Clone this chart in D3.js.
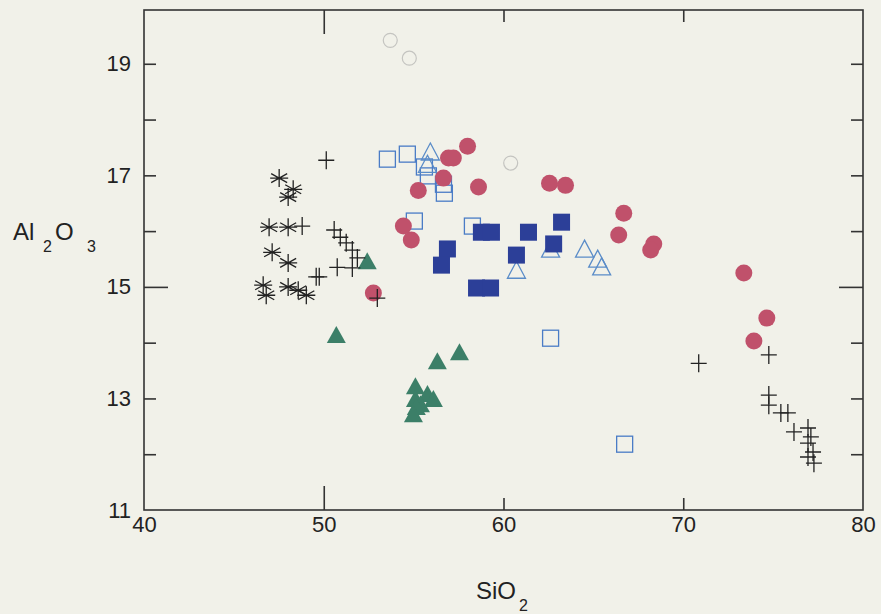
<!DOCTYPE html>
<html><head><meta charset="utf-8">
<script src="https://cdn.jsdelivr.net/npm/d3@7"></script>
<style>
html,body{margin:0;padding:0;background:#f1f1e9;}
svg{display:block;}
text{font-family:"Liberation Sans",Arial,sans-serif;fill:#222;}
</style></head>
<body>
<svg id="chart" width="881" height="614"></svg>
<script>
// ---- data (SiO2, Al2O3) ----
const grayCircles = [[53.7,19.42],[54.76,19.10],[60.4,17.22]];
const redCircles = [[58.0,17.52],[56.94,17.31],[57.21,17.31],[56.66,16.95],[55.26,16.73],[58.61,16.79],
  [62.56,16.86],[63.45,16.82],[54.43,16.09],[54.87,15.84],[52.76,14.89],[66.69,16.32],[66.41,15.93],
  [68.36,15.77],[68.19,15.66],[73.37,15.25],[74.65,14.44],[73.93,14.03]];
const filledSquares = [[58.77,15.98],[59.33,15.98],[61.39,15.98],[63.23,16.16],[62.79,15.77],[60.72,15.57],
  [56.88,15.68],[56.55,15.39],[58.50,14.98],[59.28,14.98]];
const openSquares = [[53.54,17.29],[54.65,17.38],[55.60,17.15],[55.82,16.99],[56.66,16.84],[56.71,16.68],
  [55.04,16.18],[58.27,16.09],[62.62,14.08],[66.74,12.18]];
const openTriangles = [[55.93,17.40],[55.77,17.18],[60.72,15.28],[62.62,15.66],[64.51,15.66],[65.24,15.48],[65.46,15.34]];
const greenTriangles = [[52.42,15.44],[50.70,14.12],[56.32,13.65],[57.55,13.81],[55.10,13.20],[55.77,13.06],
  [56.10,12.97],[55.10,12.97],[55.38,12.88],[55.15,12.83],[54.99,12.70]];
const asterisks = [[47.52,16.95],[48.30,16.75],[48.02,16.61],[46.96,16.07],[48.02,16.07],[47.13,15.62],
  [48.02,15.43],[46.63,15.03],[46.80,14.85],[48.02,15.00],[48.58,14.94],[49.03,14.85]];
const crosses = [[50.14,17.27],[48.80,16.09],[50.58,16.02],[50.92,15.89],[51.25,15.79],[51.59,15.66],[51.87,15.52],
  [50.75,15.35],[51.59,15.34],[49.58,15.18],[49.75,15.18],[52.98,14.80],
  [70.86,13.63],[74.76,13.78],[74.76,13.06],[74.76,12.88],[75.43,12.74],[75.82,12.74],[76.16,12.40],
  [76.94,12.47],[77.10,12.31],[76.94,12.20],[77.22,12.04],[76.94,11.95],[77.27,11.84]];
const xTicks = [40,50,60,70,80];
const yTickLabels = [11,13,15,17,19];
const yMinorTicks = [12,13,14,15,16,17,18,19];
const xInnerTicks = [50,60,70];

const svg = d3.select("#chart");
const x = d3.scaleLinear().domain([40,80]).range([144,863]);
const y = d3.scaleLinear().domain([11,20]).range([510,8]);

// frame
svg.append("rect").attr("x",x(40)).attr("y",y(20)+2).attr("width",x(80)-x(40)).attr("height",y(11)-y(20)-2)
  .attr("fill","none").attr("stroke","#333").attr("stroke-width",1.6);

const longT = v => (v===15||v===50) ? 24 : 12;
const gl = svg.append("g").attr("transform",`translate(${x(40)},0)`)
  .call(d3.axisLeft(y).tickValues(yMinorTicks).tickSize(-12).tickFormat(""));
gl.select(".domain").remove();
gl.selectAll(".tick line").attr("x2",d=>longT(d)).attr("stroke","#333").attr("stroke-width",1.6);
const gr = svg.append("g").attr("transform",`translate(${x(80)},0)`)
  .call(d3.axisRight(y).tickValues(yMinorTicks).tickSize(-12).tickFormat(""));
gr.select(".domain").remove();
gr.selectAll(".tick line").attr("x2",d=>-longT(d)).attr("stroke","#333").attr("stroke-width",1.6);
const gb = svg.append("g").attr("transform",`translate(0,${y(11)})`)
  .call(d3.axisBottom(x).tickValues(xInnerTicks).tickSize(-12).tickFormat(""));
gb.select(".domain").remove();
gb.selectAll(".tick line").attr("y2",d=>-longT(d)).attr("stroke","#333").attr("stroke-width",1.6);
const gt = svg.append("g").attr("transform",`translate(0,${y(20)+2})`)
  .call(d3.axisTop(x).tickValues(xInnerTicks).tickSize(-12).tickFormat(""));
gt.select(".domain").remove();
gt.selectAll(".tick line").attr("y2",d=>longT(d)).attr("stroke","#333").attr("stroke-width",1.6);

// tick labels
const gbl = svg.append("g").attr("transform",`translate(0,${y(11)})`)
  .call(d3.axisBottom(x).tickValues(xTicks).tickSize(0).tickPadding(6).tickFormat(d3.format("d")));
gbl.select(".domain").remove();
gbl.selectAll("text").style("font-size","22px").attr("fill","#222").attr("font-family","Liberation Sans, Arial, sans-serif");
const gll = svg.append("g").attr("transform",`translate(${x(40)-13},0)`)
  .call(d3.axisLeft(y).tickValues(yTickLabels).tickSize(0).tickPadding(0).tickFormat(d3.format("d")));
gll.select(".domain").remove();
gll.selectAll("text").style("font-size","22px").attr("fill","#222").attr("font-family","Liberation Sans, Arial, sans-serif");

// axis titles
const xt = svg.append("text").attr("x",476).attr("y",599).style("font-size","24px");
xt.append("tspan").text("SiO");
xt.append("tspan").attr("x",519).attr("y",611).style("font-size","16px").text("2");
const yt = svg.append("text").attr("x",13).attr("y",240).style("font-size","24px");
yt.append("tspan").text("Al");
yt.append("tspan").attr("x",43).attr("y",252).style("font-size","16px").text("2");
yt.append("tspan").attr("x",55).attr("y",240).text("O");
yt.append("tspan").attr("x",87).attr("y",252).style("font-size","16px").text("3");

const plot = svg.append("g");
const pos = d => `translate(${x(d[0])},${y(d[1])})`;

plot.selectAll(".gc").data(grayCircles).join("circle").attr("transform",pos).attr("r",7)
  .attr("fill","none").attr("stroke","#c4c4c0").attr("stroke-width",1.2);
plot.selectAll(".os").data(openSquares).join("rect").attr("transform",pos)
  .attr("x",-8).attr("y",-8).attr("width",16).attr("height",16)
  .attr("fill","none").attr("stroke","#4a7cc6").attr("stroke-width",1.3);
plot.selectAll(".ot").data(openTriangles).join("path").attr("transform",pos)
  .attr("d","M0,-10L9,7L-9,7Z").attr("fill","none").attr("stroke","#5a8cc8").attr("stroke-width",1.3);
plot.selectAll(".fs").data(filledSquares).join("rect").attr("transform",pos)
  .attr("x",-8.5).attr("y",-8.5).attr("width",17).attr("height",17).attr("fill","#2c3f98");
plot.selectAll(".rc").data(redCircles).join("circle").attr("transform",pos).attr("r",8.5)
  .attr("fill","#c0516b");
plot.selectAll(".gt").data(greenTriangles).join("path").attr("transform",pos)
  .attr("d","M0,-10L9.5,7L-9.5,7Z").attr("fill","#3c7f68");
plot.selectAll(".cr").data(crosses).join("path").attr("transform",pos)
  .attr("d","M-8,0H8M0,-9V9").attr("stroke","#222").attr("stroke-width",1.3).attr("fill","none");
plot.selectAll(".as").data(asterisks).join("path").attr("transform",pos)
  .attr("d","M0,-9V9M-8,-4.5L8,4.5M-8,4.5L8,-4.5M-9,0H9").attr("stroke","#222").attr("stroke-width",1.3).attr("fill","none");
</script>
</body></html>
